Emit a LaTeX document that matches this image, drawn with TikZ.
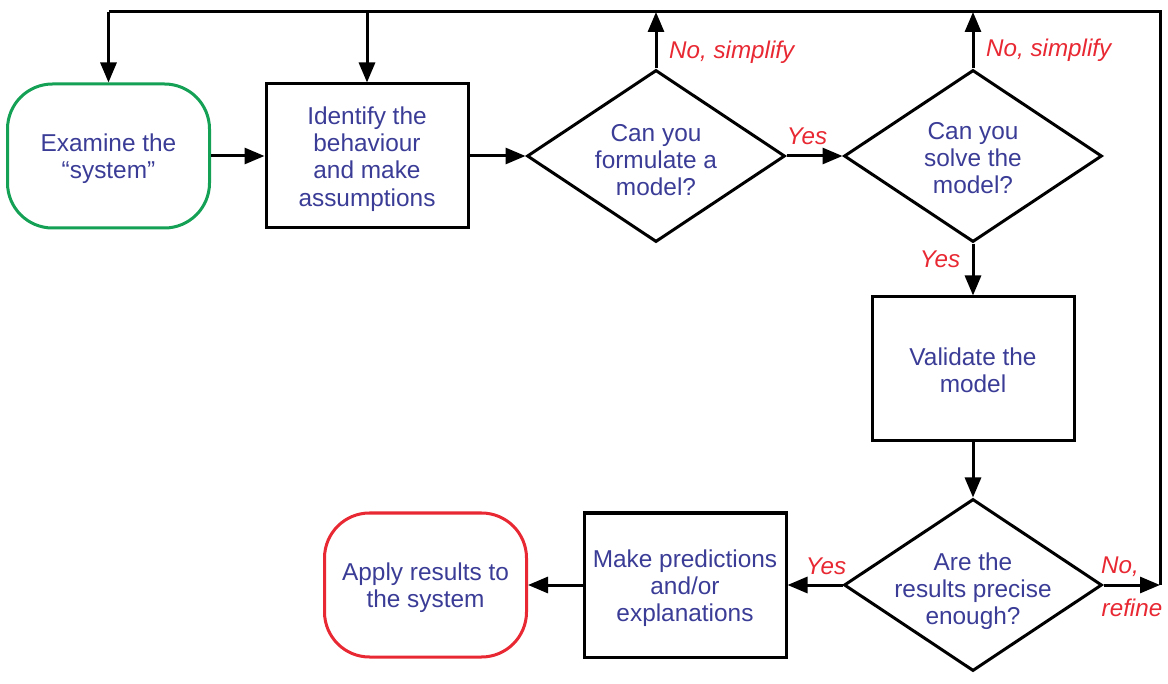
\documentclass[tikz,border=0pt]{standalone}
\usepackage{fontspec}
\setmainfont{Liberation Sans}
\usetikzlibrary{arrows.meta,shapes.geometric}
\definecolor{txtblue}{RGB}{58,60,150}
\definecolor{lblred}{RGB}{232,40,50}
\definecolor{startgreen}{RGB}{20,160,85}
\newcommand\mytxtfont{\fontsize{24.4}{27.2}\selectfont}
\newcommand\mylblfont{\fontsize{24.2}{27.2}\selectfont\itshape}
\begin{document}
\begin{tikzpicture}[x=1pt,y=-1pt,
  box/.style={draw=black, line width=3pt, minimum width=202pt, minimum height=144pt, inner sep=0pt},
  term/.style={box, rounded corners=45pt},
  dia/.style={draw=black, diamond, line width=3pt, minimum width=258pt, minimum height=172pt, inner sep=0pt},
  txt/.style={align=center, text=txtblue, font=\mytxtfont},
  conn/.style={line width=3pt},
  arr/.style={line width=3pt, -{Triangle[length=20pt,width=16pt]}},
  lbl/.style={text=lblred, font=\mylblfont, inner sep=0pt}]
\useasboundingbox (0,0) rectangle (1168,684);
\node[term, draw=startgreen] (ex) at (108.5,156) {};
\node[txt] (tex) at (108.5,159) {Examine the\\``system''};
\node[box] (id) at (367,156) {};
\node[txt] (tid) at (367,159) {Identify the\\behaviour\\and make\\assumptions};
\node[dia] (d1) at (656,156) {};
\node[txt] (t1) at (656,160) {Can you\\formulate a\\model?};
\node[dia] (d2) at (973,156) {};
\node[txt] (t2) at (973,158) {Can you\\solve the\\model?};
\node[box] (val) at (973,369) {};
\node[txt] (tval) at (973,370) {Validate the\\model};
\node[dia] (d3) at (973,585) {};
\node[txt] (t3) at (973,591) {Are the\\results precise\\enough?};
\node[box] (mk) at (685,585) {};
\node[txt] (tmk) at (685,588) {Make predictions\\and/or\\explanations};
\node[term, draw=lblred] (ap) at (425.5,585) {};
\node[txt] (tap) at (425.5,588) {Apply results to\\the system};
\coordinate (tl) at (108.5,12);
\coordinate (tr) at (1160,12);
\coordinate (rr) at (1160,585);
% top feedback line
\draw[conn] (rr) -- (tr) -- (tl);
\draw[arr] (tl) -- (ex.north);
\draw[arr] (id.north |- tl) -- (id.north);
\draw[arr] (d1.north) -- (d1.north |- tl);
\draw[arr] (d2.north) -- (d2.north |- tl);
% main flow
\draw[arr] (ex) -- (id);
\draw[arr] (id) -- (d1);
\draw[arr] (d1) -- (d2);
\draw[arr] (d2) -- (val);
\draw[arr] (val) -- (d3);
\draw[arr] (d3) -- (mk);
\draw[arr] (mk) -- (ap);
\draw[arr] (d3.east) -- (rr);
% labels
\node[lbl, anchor=west] (l1) at (669,52) {No, simplify};
\node[lbl, anchor=west] (l2) at (986,50) {No, simplify};
\node[lbl] (l3) at (807,136) {Yes};
\node[lbl] (l4) at (940,259) {Yes};
\node[lbl] (l5) at (826,566) {Yes};
\node[lbl] (l6) at (1120,567) {No,};
\node[lbl] (l7) at (1132,608) {refine};
\end{tikzpicture}
\end{document}
